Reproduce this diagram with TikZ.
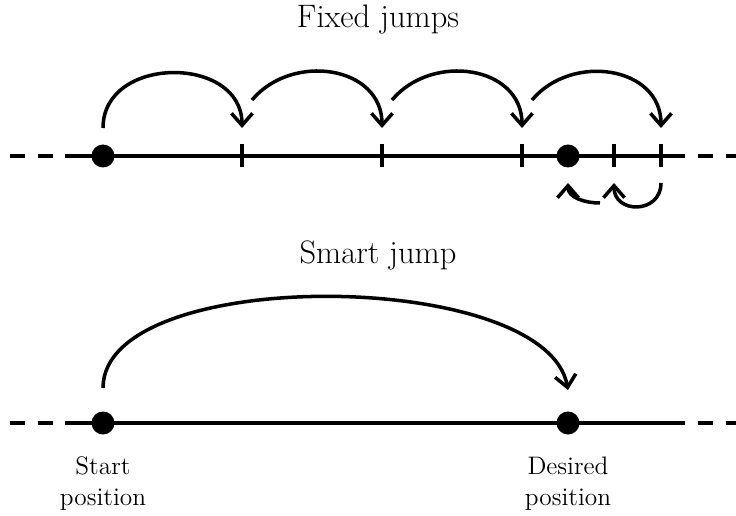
\documentclass[tikz,border=0pt]{standalone}
\usetikzlibrary{arrows.meta,positioning}

\begin{document}
\begin{tikzpicture}[
  axis/.style={line width=2pt},
  axisdash/.style={line width=2pt, dash pattern=on 0.3cm off 0.25cm},
  dot/.style={circle, fill=black, inner sep=0pt, minimum size=0.46cm},
  jump/.style={line width=2pt, -{Straight Barb[length=0.24cm, width=0.42cm]}},
  title/.style={font=\fontsize{18.5}{22}\selectfont},
  caption/.style={font=\Large, align=center}
]
  \useasboundingbox (0,0) rectangle (14.72,10.3);

  % Fixed jumps
  \node[title] (fixed) at (7.56,9.9) {Fixed jumps};
  \draw[axisdash] (0.2,7.18) -- (1.5,7.18);
  \draw[axisdash] (13.96,7.18) -- (14.72,7.18);
  \draw[axis] (1.3,7.18) -- (13.7,7.18);
  \foreach \x/\name in {4.84/t1, 7.64/t2, 10.44/t3, 12.28/t4, 13.22/t5}{
    \draw[axis] (\x,6.95) -- (\x,7.41);
    \coordinate (\name) at (\x,7.74);
    \coordinate (\name b) at (\x,6.64);
    \coordinate (\name s) at (\x+0.2,8.3);
  }
  \node[dot] (start1) at (2.06,7.18) {};
  \node[dot] (goal1) at (11.36,7.18) {};
  \coordinate (s1) at (2.06,7.74);
  \coordinate (g1) at (11.36,6.64);
  \coordinate (back) at (12.0,6.24);

  \draw[jump] (s1) to[out=90, in=90, looseness=1.35] (t1);
  \draw[jump] (t1s) to[out=50, in=90, looseness=1.2] (t2);
  \draw[jump] (t2s) to[out=50, in=90, looseness=1.2] (t3);
  \draw[jump] (t3s) to[out=50, in=90, looseness=1.2] (t5);
  \draw[jump] (t5b) to[out=-90, in=-90, looseness=1.7] (t4b);
  \draw[jump] (back) to[out=180, in=-90] (g1);

  % Smart jump
  \node[title] (smart) at (7.56,5.2) {Smart jump};
  \draw[axisdash] (0.2,1.84) -- (1.5,1.84);
  \draw[axisdash] (13.96,1.84) -- (14.72,1.84);
  \draw[axis] (1.3,1.84) -- (13.7,1.84);
  \node[dot] (start2) at (2.06,1.84) {};
  \node[dot] (goal2) at (11.36,1.84) {};
  \coordinate (s2) at (2.06,2.54);
  \coordinate (g2) at (11.36,2.5);
  \draw[jump] (s2) to[out=90, in=100, looseness=0.68] (g2);

  \node[caption] (startlbl) at (2.06,0.63) {Start\\position};
  \node[caption] (goallbl) at (11.36,0.63) {Desired\\position};
\end{tikzpicture}
\end{document}
